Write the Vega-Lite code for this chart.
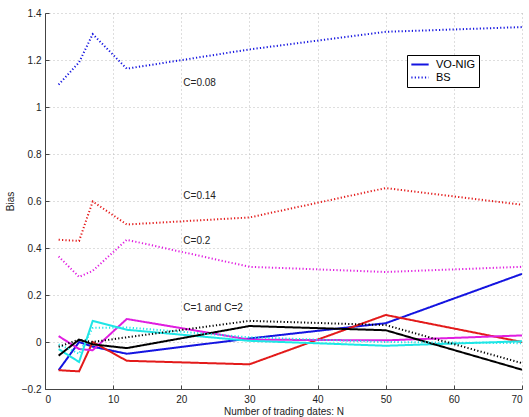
{
  "$schema": "https://vega.github.io/schema/vega-lite/v6.json",
  "width": 477,
  "height": 376,
  "autosize": "none",
  "padding": {"left": 45, "top": 13, "right": 7, "bottom": 28},
  "background": "white",
  "config": {
    "view": {"stroke": null},
    "font": "Liberation Sans",
    "axis": {
      "labelFont": "Liberation Sans",
      "titleFont": "Liberation Sans",
      "labelFontSize": 10,
      "titleFontSize": 10,
      "titleFontWeight": "normal",
      "labelColor": "#222",
      "titleColor": "#222",
      "domainColor": "#444",
      "tickColor": "#444",
      "gridColor": "#bdbdbd",
      "gridDash": [1, 3],
      "gridWidth": 1
    }
  },
  "datasets": {
    "curves": [
      {"C": "0.08", "model": "VO-NIG", "N": 2, "bias": -0.12},
      {"C": "0.08", "model": "VO-NIG", "N": 5, "bias": 0.0},
      {"C": "0.08", "model": "VO-NIG", "N": 7, "bias": -0.02},
      {"C": "0.08", "model": "VO-NIG", "N": 12, "bias": -0.05},
      {"C": "0.08", "model": "VO-NIG", "N": 30, "bias": 0.015},
      {"C": "0.08", "model": "VO-NIG", "N": 50, "bias": 0.08},
      {"C": "0.08", "model": "VO-NIG", "N": 70, "bias": 0.29},
      {"C": "0.14", "model": "VO-NIG", "N": 2, "bias": -0.12},
      {"C": "0.14", "model": "VO-NIG", "N": 5, "bias": -0.125},
      {"C": "0.14", "model": "VO-NIG", "N": 7, "bias": 0.0},
      {"C": "0.14", "model": "VO-NIG", "N": 12, "bias": -0.08},
      {"C": "0.14", "model": "VO-NIG", "N": 30, "bias": -0.095},
      {"C": "0.14", "model": "VO-NIG", "N": 50, "bias": 0.115},
      {"C": "0.14", "model": "VO-NIG", "N": 70, "bias": 0.0},
      {"C": "0.2", "model": "VO-NIG", "N": 2, "bias": 0.025},
      {"C": "0.2", "model": "VO-NIG", "N": 5, "bias": -0.03},
      {"C": "0.2", "model": "VO-NIG", "N": 7, "bias": -0.035},
      {"C": "0.2", "model": "VO-NIG", "N": 12, "bias": 0.098},
      {"C": "0.2", "model": "VO-NIG", "N": 30, "bias": 0.01},
      {"C": "0.2", "model": "VO-NIG", "N": 50, "bias": 0.007},
      {"C": "0.2", "model": "VO-NIG", "N": 70, "bias": 0.028},
      {"C": "1", "model": "VO-NIG", "N": 2, "bias": -0.03},
      {"C": "1", "model": "VO-NIG", "N": 5, "bias": -0.085},
      {"C": "1", "model": "VO-NIG", "N": 7, "bias": 0.09},
      {"C": "1", "model": "VO-NIG", "N": 12, "bias": 0.052},
      {"C": "1", "model": "VO-NIG", "N": 30, "bias": 0.005},
      {"C": "1", "model": "VO-NIG", "N": 50, "bias": -0.016},
      {"C": "1", "model": "VO-NIG", "N": 70, "bias": 0.003},
      {"C": "2", "model": "VO-NIG", "N": 2, "bias": -0.058},
      {"C": "2", "model": "VO-NIG", "N": 5, "bias": 0.01},
      {"C": "2", "model": "VO-NIG", "N": 7, "bias": -0.01},
      {"C": "2", "model": "VO-NIG", "N": 12, "bias": -0.026},
      {"C": "2", "model": "VO-NIG", "N": 30, "bias": 0.068},
      {"C": "2", "model": "VO-NIG", "N": 50, "bias": 0.05},
      {"C": "2", "model": "VO-NIG", "N": 70, "bias": -0.118},
      {"C": "0.08", "model": "BS", "N": 2, "bias": 1.095},
      {"C": "0.08", "model": "BS", "N": 5, "bias": 1.19},
      {"C": "0.08", "model": "BS", "N": 7, "bias": 1.31},
      {"C": "0.08", "model": "BS", "N": 12, "bias": 1.163},
      {"C": "0.08", "model": "BS", "N": 30, "bias": 1.245},
      {"C": "0.08", "model": "BS", "N": 50, "bias": 1.32},
      {"C": "0.08", "model": "BS", "N": 70, "bias": 1.34},
      {"C": "0.14", "model": "BS", "N": 2, "bias": 0.435},
      {"C": "0.14", "model": "BS", "N": 5, "bias": 0.43},
      {"C": "0.14", "model": "BS", "N": 7, "bias": 0.598},
      {"C": "0.14", "model": "BS", "N": 12, "bias": 0.5},
      {"C": "0.14", "model": "BS", "N": 30, "bias": 0.53},
      {"C": "0.14", "model": "BS", "N": 50, "bias": 0.655},
      {"C": "0.14", "model": "BS", "N": 70, "bias": 0.584},
      {"C": "0.2", "model": "BS", "N": 2, "bias": 0.364},
      {"C": "0.2", "model": "BS", "N": 5, "bias": 0.277},
      {"C": "0.2", "model": "BS", "N": 7, "bias": 0.303},
      {"C": "0.2", "model": "BS", "N": 12, "bias": 0.435},
      {"C": "0.2", "model": "BS", "N": 30, "bias": 0.32},
      {"C": "0.2", "model": "BS", "N": 50, "bias": 0.298},
      {"C": "0.2", "model": "BS", "N": 70, "bias": 0.32},
      {"C": "1", "model": "BS", "N": 2, "bias": -0.01},
      {"C": "1", "model": "BS", "N": 5, "bias": -0.05},
      {"C": "1", "model": "BS", "N": 7, "bias": 0.06},
      {"C": "1", "model": "BS", "N": 12, "bias": 0.062},
      {"C": "1", "model": "BS", "N": 30, "bias": 0.02},
      {"C": "1", "model": "BS", "N": 50, "bias": 0.0},
      {"C": "1", "model": "BS", "N": 70, "bias": -0.005},
      {"C": "2", "model": "BS", "N": 2, "bias": -0.02},
      {"C": "2", "model": "BS", "N": 5, "bias": 0.01},
      {"C": "2", "model": "BS", "N": 7, "bias": 0.0},
      {"C": "2", "model": "BS", "N": 12, "bias": 0.02},
      {"C": "2", "model": "BS", "N": 30, "bias": 0.09},
      {"C": "2", "model": "BS", "N": 50, "bias": 0.072},
      {"C": "2", "model": "BS", "N": 70, "bias": -0.09}
    ],
    "labels": [
      {"N": 20.3, "bias": 1.102, "label": "C=0.08"},
      {"N": 20.3, "bias": 0.62, "label": "C=0.14"},
      {"N": 20.3, "bias": 0.431, "label": "C=0.2"},
      {"N": 20.3, "bias": 0.145, "label": "C=1 and C=2"}
    ]
  },
  "layer": [
    {
      "data": {"name": "curves"},
      "mark": {"type": "line", "strokeWidth": 2, "clip": true},
      "encoding": {
        "x": {
          "field": "N", "type": "quantitative",
          "scale": {"domain": [0, 70], "nice": false},
          "axis": {
            "title": "Number of trading dates: N",
            "values": [0, 10, 20, 30, 40, 50, 60, 70],
            "tickSize": -4,
            "labelPadding": 9,
            "titlePadding": 2,
            "grid": true
          }
        },
        "y": {
          "field": "bias", "type": "quantitative",
          "scale": {"domain": [-0.2, 1.4], "nice": false, "zero": false},
          "axis": {
            "title": "Bias",
            "values": [-0.2, 0, 0.2, 0.4, 0.6, 0.8, 1, 1.2, 1.4],
            "format": "~g",
            "tickSize": -4,
            "labelPadding": 8,
            "titlePadding": 6,
            "grid": true
          }
        },
        "color": {
          "field": "C", "type": "nominal",
          "scale": {"domain": ["0.08", "0.14", "0.2", "1", "2"],
                    "range": ["#1414e0", "#e31a1a", "#e01ee0", "#1ee6e6", "#000000"]},
          "legend": null
        },
        "strokeDash": {
          "field": "model", "type": "nominal",
          "scale": {"domain": ["VO-NIG", "BS"], "range": [[1, 0], [1.2, 2.2]]},
          "legend": {
            "title": null,
            "orient": "none",
            "legendX": 362,
            "legendY": 42,
            "direction": "vertical",
            "strokeColor": "#000",
            "fillColor": "#fff",
            "padding": 3,
            "symbolType": "stroke",
            "symbolSize": 300,
            "clipHeight": 13,
            "symbolStrokeWidth": 2,
            "symbolStrokeColor": "#1414e0",
            "labelFont": "Liberation Sans",
            "labelFontSize": 11,
            "labelColor": "#000",
            "rowPadding": 0,
            "labelOffset": 6
          }
        }
      }
    },
    {
      "data": {"name": "labels"},
      "mark": {"type": "text", "align": "left", "baseline": "middle", "fontSize": 10, "font": "Liberation Sans", "color": "#222"},
      "encoding": {
        "x": {"field": "N", "type": "quantitative"},
        "y": {"field": "bias", "type": "quantitative"},
        "text": {"field": "label"}
      }
    }
  ]
}
